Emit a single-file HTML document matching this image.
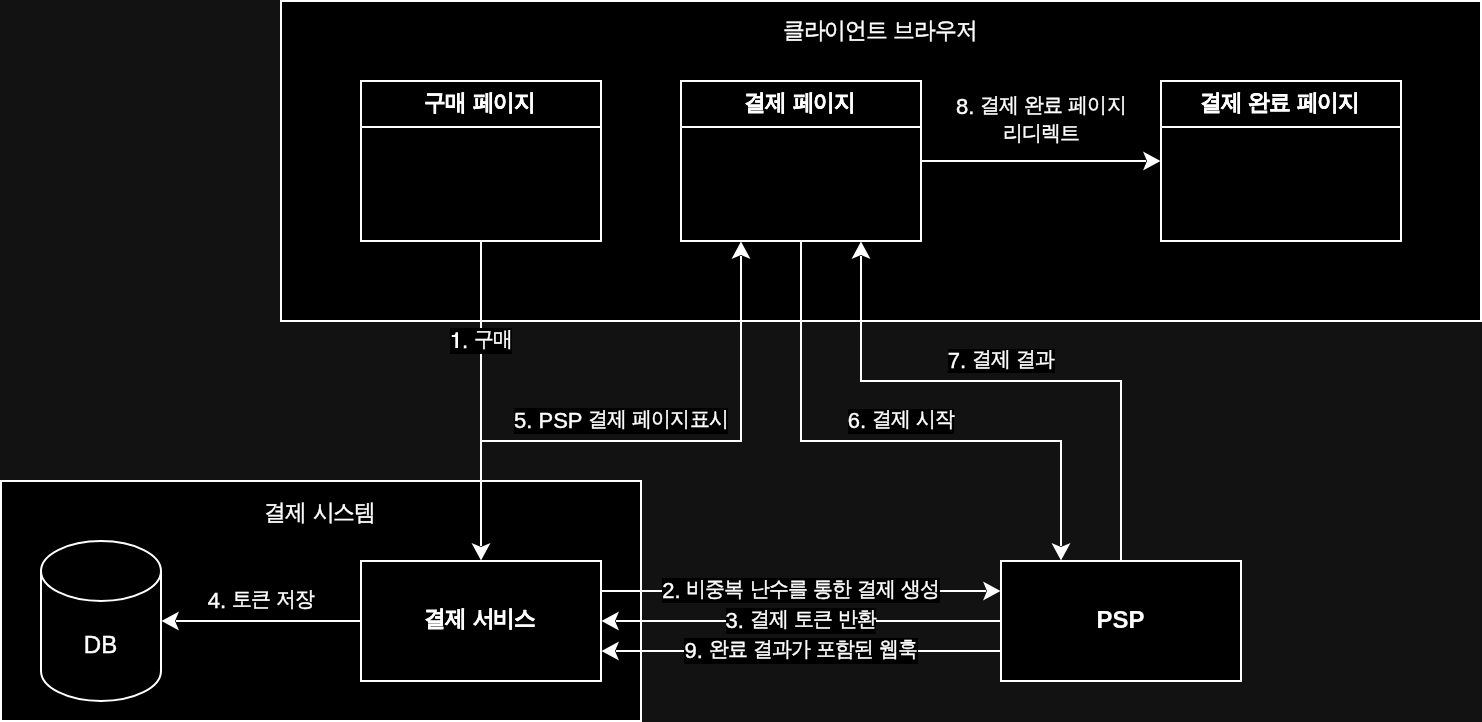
<!DOCTYPE html>
<html><head><meta charset="utf-8"><style>
html,body{margin:0;padding:0;background:#121212;overflow:hidden}
svg{display:block;font-family:"Liberation Sans",sans-serif;will-change:transform}
text{fill:#fff;stroke:#fff;stroke-width:0.4px}
text[font-weight]{stroke-width:0.15px}
</style></head><body>
<svg width="1482" height="722" viewBox="0 0 1482 722">
<rect x="281" y="1" width="1200" height="320" fill="#000" stroke="#fff" stroke-width="2"/>
<rect x="1" y="481" width="640" height="240" fill="#000" stroke="#fff" stroke-width="2"/>
<rect x="361" y="81" width="240" height="160" fill="#000" stroke="#fff" stroke-width="2"/>
<line x1="361" y1="127" x2="601" y2="127" stroke="#fff" stroke-width="2"/>
<rect x="681" y="81" width="240" height="160" fill="#000" stroke="#fff" stroke-width="2"/>
<line x1="681" y1="127" x2="921" y2="127" stroke="#fff" stroke-width="2"/>
<rect x="1161" y="81" width="240" height="160" fill="#000" stroke="#fff" stroke-width="2"/>
<line x1="1161" y1="127" x2="1401" y2="127" stroke="#fff" stroke-width="2"/>
<rect x="361" y="561" width="240" height="120" fill="#000" stroke="#fff" stroke-width="2"/>
<rect x="1001" y="561" width="240" height="120" fill="#000" stroke="#fff" stroke-width="2"/>
<path d="M41 571 A60 30 0 0 1 101 541 A60 30 0 0 1 161 571 L161 671 A60 30 0 0 1 101 701 A60 30 0 0 1 41 671 Z" fill="#000" stroke="#fff" stroke-width="2"/>
<path d="M41 571 A60 30 0 0 0 161 571" fill="none" stroke="#fff" stroke-width="2"/>
<polyline points="481,242 481,546" fill="none" stroke="#fff" stroke-width="2"/>
<polyline points="481,441 741,441 741,256" fill="none" stroke="#fff" stroke-width="2"/>
<polyline points="801,242 801,441 1061,441 1061,546" fill="none" stroke="#fff" stroke-width="2"/>
<polyline points="1121,560 1121,381 861,381 861,256" fill="none" stroke="#fff" stroke-width="2"/>
<polyline points="922,161 1146,161" fill="none" stroke="#fff" stroke-width="2"/>
<polyline points="602,591 986,591" fill="none" stroke="#fff" stroke-width="2"/>
<polyline points="1000,621 616,621" fill="none" stroke="#fff" stroke-width="2"/>
<polyline points="1000,651 616,651" fill="none" stroke="#fff" stroke-width="2"/>
<polyline points="360,621 176,621" fill="none" stroke="#fff" stroke-width="2"/>
<g fill="#fff">
<polygon points="481,560.5 471.5,543 481,547 490.5,543"/>
<polygon points="741,241.5 731.5,259 741,255 750.5,259"/>
<polygon points="1061,560.5 1051.5,543 1061,547 1070.5,543"/>
<polygon points="861,241.5 851.5,259 861,255 870.5,259"/>
<polygon points="1160.5,161 1143,151.5 1147,161 1143,170.5"/>
<polygon points="1000.5,591 983,581.5 987,591 983,600.5"/>
<polygon points="601.5,621 619,611.5 615,621 619,630.5"/>
<polygon points="601.5,651 619,641.5 615,651 619,660.5"/>
<polygon points="161.5,621 179,611.5 175,621 179,630.5"/>
</g>
<rect x="450" y="328" width="62" height="26" fill="#000"/>
<rect x="514" y="408" width="214" height="26" fill="#000"/>
<rect x="848" y="409" width="106" height="25" fill="#000"/>
<rect x="948" y="349" width="107" height="24" fill="#000"/>
<rect x="662" y="578" width="278" height="25" fill="#000"/>
<rect x="726" y="608" width="150" height="26" fill="#000"/>
<rect x="684" y="638" width="234" height="26" fill="#000"/>
<text transform="translate(0 38.3) scale(0.9 0.95)" x="869.81 892.87 915.94 939.01 962.07" y="0" font-size="24">클라이언트</text>
<text transform="translate(0 38.3) scale(0.9 0.95)" x="992.55 1015.62 1038.68 1061.75" y="0" font-size="24">브라우저</text>
<text transform="translate(0 520) scale(0.9 0.95)" x="293.72 316.78" y="0" font-size="24">결제</text>
<text transform="translate(0 520) scale(0.9 0.95)" x="347.26 370.33 393.39" y="0" font-size="24">시스템</text>
<text transform="translate(0 109.6) scale(0.9 0.95)" x="471.50 494.56" y="0" font-size="24" font-weight="bold">구매</text>
<text transform="translate(0 109.6) scale(0.9 0.95)" x="525.04 548.10 571.17" y="0" font-size="24" font-weight="bold">페이지</text>
<text transform="translate(0 109.6) scale(0.9 0.95)" x="827.05 850.12" y="0" font-size="24" font-weight="bold">결제</text>
<text transform="translate(0 109.6) scale(0.9 0.95)" x="880.59 903.66 926.73" y="0" font-size="24" font-weight="bold">페이지</text>
<text transform="translate(0 109.6) scale(0.9 0.95)" x="1333.61 1356.68" y="0" font-size="24" font-weight="bold">결제</text>
<text transform="translate(0 109.6) scale(0.9 0.95)" x="1387.16 1410.22" y="0" font-size="24" font-weight="bold">완료</text>
<text transform="translate(0 109.6) scale(0.9 0.95)" x="1440.70 1463.76 1486.83" y="0" font-size="24" font-weight="bold">페이지</text>
<text transform="translate(0 625.6) scale(0.9 0.95)" x="471.50 494.56" y="0" font-size="24" font-weight="bold">결제</text>
<text transform="translate(0 625.6) scale(0.9 0.95)" x="525.04 548.10 571.17" y="0" font-size="24" font-weight="bold">서비스</text>
<text x="1096.49" y="627.7" font-size="24" font-weight="bold">PSP</text>
<text x="83.83" y="653.4" font-size="24">DB</text>
<path d="M451.8 335.1 L453.6 335.1 C454.9 335.1 455.5 333.6 455.6 332.2 L458 332.2 L458 348 L455.3 348 L455.3 337.1 L451.8 337.1 Z" fill="#fff"/>
<text x="461.98" y="347.7" font-size="22">.</text>
<text transform="translate(0 345.7) scale(0.9 0.95)" x="526.46 547.61" y="0" font-size="22">구매</text>
<text x="514.04" y="427.9" font-size="22">5.&#160;PSP</text>
<text transform="translate(0 425.9) scale(0.9 0.95)" x="653.61 674.76" y="0" font-size="22">결제</text>
<text transform="translate(0 425.9) scale(0.9 0.95)" x="702.69 723.84 744.98 766.13 787.27" y="0" font-size="22">페이지표시</text>
<text x="847.65" y="427.7" font-size="22">6.</text>
<text transform="translate(0 425.7) scale(0.9 0.95)" x="968.59 989.73" y="0" font-size="22">결제</text>
<text transform="translate(0 425.7) scale(0.9 0.95)" x="1017.67 1038.81" y="0" font-size="22">시작</text>
<text x="947.65" y="367.8" font-size="22">7.</text>
<text transform="translate(0 365.8) scale(0.9 0.95)" x="1079.70 1100.84" y="0" font-size="22">결제</text>
<text transform="translate(0 365.8) scale(0.9 0.95)" x="1128.78 1149.92" y="0" font-size="22">결과</text>
<text x="956.05" y="114.3" font-size="22">8.</text>
<text transform="translate(0 112.3) scale(0.9 0.95)" x="1089.03 1110.18" y="0" font-size="22">결제</text>
<text transform="translate(0 112.3) scale(0.9 0.95)" x="1138.11 1159.26" y="0" font-size="22">완료</text>
<text transform="translate(0 112.3) scale(0.9 0.95)" x="1187.19 1208.34 1229.48" y="0" font-size="22">페이지</text>
<text transform="translate(0 140) scale(0.9 0.95)" x="1113.95 1135.09 1156.24 1177.38" y="0" font-size="22">리디렉트</text>
<text x="662.37" y="598" font-size="22">2.</text>
<text transform="translate(0 596) scale(0.9 0.95)" x="762.71 783.86 805.00" y="0" font-size="22">비중복</text>
<text transform="translate(0 596) scale(0.9 0.95)" x="832.94 854.08 875.23" y="0" font-size="22">난수를</text>
<text transform="translate(0 596) scale(0.9 0.95)" x="903.16 924.31" y="0" font-size="22">통한</text>
<text transform="translate(0 596) scale(0.9 0.95)" x="952.24 973.39" y="0" font-size="22">결제</text>
<text transform="translate(0 596) scale(0.9 0.95)" x="1001.32 1022.47" y="0" font-size="22">생성</text>
<text x="725.57" y="627.5" font-size="22">3.</text>
<text transform="translate(0 625.5) scale(0.9 0.95)" x="832.94 854.08" y="0" font-size="22">결제</text>
<text transform="translate(0 625.5) scale(0.9 0.95)" x="882.02 903.16" y="0" font-size="22">토큰</text>
<text transform="translate(0 625.5) scale(0.9 0.95)" x="931.10 952.24" y="0" font-size="22">반환</text>
<text x="684.45" y="658.1" font-size="22">9.</text>
<text transform="translate(0 656.1) scale(0.9 0.95)" x="787.25 808.40" y="0" font-size="22">완료</text>
<text transform="translate(0 656.1) scale(0.9 0.95)" x="836.33 857.48 878.62" y="0" font-size="22">결과가</text>
<text transform="translate(0 656.1) scale(0.9 0.95)" x="906.56 927.70 948.85" y="0" font-size="22">포함된</text>
<text transform="translate(0 656.1) scale(0.9 0.95)" x="976.78 997.93" y="0" font-size="22">웹훅</text>
<text x="207.65" y="607.9" font-size="22">4.</text>
<text transform="translate(0 605.9) scale(0.9 0.95)" x="257.48 278.62" y="0" font-size="22">토큰</text>
<text transform="translate(0 605.9) scale(0.9 0.95)" x="306.56 327.70" y="0" font-size="22">저장</text>
</svg>
</body></html>
